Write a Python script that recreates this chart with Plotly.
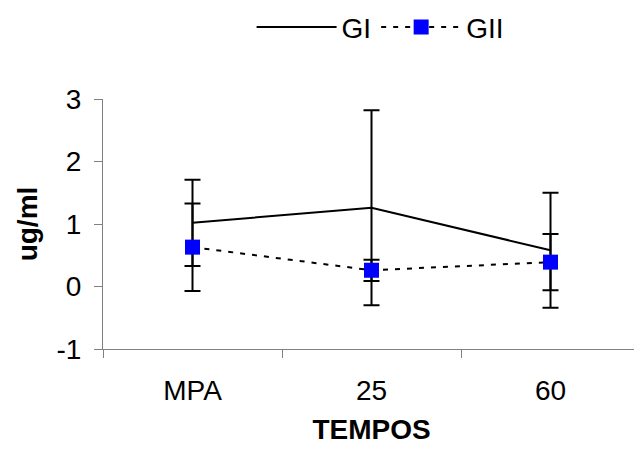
import plotly.graph_objects as go

categories = ["MPA", "25", "60"]
gi_values = [1.02, 1.26, 0.58]
gi_errors = [0.69, 1.56, 0.92]
gii_values = [0.63, 0.26, 0.39]
gii_errors = [0.70, 0.17, 0.45]
y_ticks = [-1, 0, 1, 2, 3]
y_tick_labels = ["-1", "0", "1", "2", "3"]

FONT = "Liberation Sans, Arial, sans-serif"
FS = 28

fig = go.Figure()
fig.add_trace(go.Scatter(
    x=categories, y=gi_values, name="GI", mode="lines",
    line=dict(color="black", width=2),
    error_y=dict(type="data", array=gi_errors, visible=True, color="black", thickness=2, width=8),
))
fig.add_trace(go.Scatter(
    x=categories, y=gii_values, name="GII", mode="lines+markers",
    line=dict(color="black", width=2, dash="5px,7px"),
    marker=dict(symbol="square", size=15, color="#0000ff", line=dict(width=0)),
    error_y=dict(type="data", array=gii_errors, visible=True, color="black", thickness=2, width=8),
))

fig.update_layout(
    width=634, height=446,
    margin=dict(l=95, r=2, t=91, b=105, autoexpand=False),
    paper_bgcolor="white", plot_bgcolor="white",
    font=dict(family=FONT, size=FS, color="black"),
    showlegend=True,
    legend=dict(orientation="h", x=0.516, xanchor="center", y=0.957, yanchor="middle",
                yref="container", font=dict(size=FS), itemwidth=80,
                bgcolor="rgba(0,0,0,0)"),
)
fig.update_xaxes(
    type="category", range=[-0.5, 2.5], tickson="boundaries", ticks="outside", ticklen=8,
    tickcolor="#808080", showline=True, linecolor="#808080", linewidth=1,
    showgrid=False, zeroline=False, ticklabelstandoff=16, automargin=False,
    tickfont=dict(size=FS),
    title=dict(text="<b>TEMPOS</b>", font=dict(size=FS), standoff=14),
)
fig.update_yaxes(
    range=[-1, 3], tickvals=y_ticks, ticktext=y_tick_labels, ticks="outside", ticklen=8,
    tickcolor="#808080", showline=True, linecolor="#808080", linewidth=1,
    showgrid=False, zeroline=False, ticklabelstandoff=7, automargin=False,
    tickfont=dict(size=FS),
    title=dict(text="<b>ug/ml</b>", font=dict(size=FS), standoff=10),
)

fig.write_html("out.html")
